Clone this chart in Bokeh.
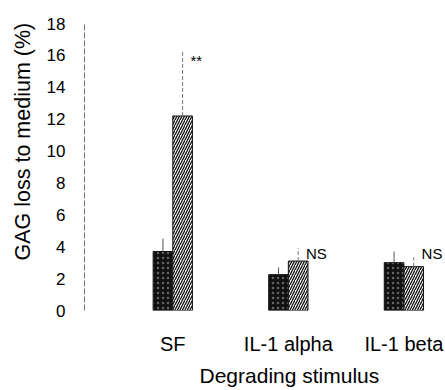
import numpy as np
from bokeh.plotting import figure
from bokeh.models import Range1d, FixedTicker, Title
from bokeh.core.properties import value
from bokeh.embed import file_html
from bokeh.resources import INLINE

# ---- data ----
categories = ["SF", "IL-1 alpha", "IL-1 beta"]
black_means = [3.7, 2.25, 3.0]
black_errs = [0.8, 0.45, 0.7]
hatched_means = [12.2, 3.1, 2.75]
hatched_errs = [4.0, 0.8, 0.6]
annotations = ["**", "NS", "NS"]
annotation_y = [15.7, 3.6, 3.6]
y_ticks = [0, 2, 4, 6, 8, 10, 12, 14, 16, 18]
y_title = "GAG loss to medium (%)"
x_title = "Degrading stimulus"

FONT = "Liberation Sans"
pos = np.arange(1, len(categories) + 1)
bw = 0.17

p = figure(width=445, height=390, x_range=Range1d(0.236, 3.36), y_range=Range1d(0, 18),
           output_backend="svg", toolbar_location=None,
           min_border_left=81, min_border_right=0, min_border_top=23, min_border_bottom=79)
p.background_fill_color = "white"
p.border_fill_color = "white"
p.outline_line_color = None
p.xgrid.visible = False
p.ygrid.visible = False

# black (stippled) bars
p.vbar(x=pos - bw / 2, top=black_means, width=bw, fill_color="#111111", line_color="#111111",
       hatch_pattern=".", hatch_color="white", hatch_alpha=0.35, hatch_scale=5, hatch_weight=1)
# hatched bars
p.vbar(x=pos + bw / 2, top=hatched_means, width=bw, fill_color="white", line_color="#111111",
       line_width=1, hatch_pattern="/", hatch_color="#111111", hatch_scale=5, hatch_weight=1.3)

# error bars
p.segment(x0=pos - bw / 2, y0=black_means, x1=pos - bw / 2,
          y1=np.array(black_means) + np.array(black_errs), line_color="#555555", line_width=1)
p.segment(x0=pos + bw / 2, y0=hatched_means, x1=pos + bw / 2,
          y1=np.array(hatched_means) + np.array(hatched_errs), line_color="#777777",
          line_width=1, line_dash="4 2")

# significance annotations
p.text(x=pos + bw, y=annotation_y, text=annotations, text_align="left", text_baseline="middle",
       x_offset=-2, text_font=value(FONT), text_font_size="15px", text_color="black")

# y axis
p.yaxis.ticker = FixedTicker(ticks=y_ticks)
p.yaxis.major_tick_in = 0
p.yaxis.major_tick_out = 0
p.yaxis.minor_tick_line_color = None
p.yaxis.axis_line_color = "#777777"
p.yaxis.axis_line_dash = "6 2"
p.yaxis.major_label_standoff = 19
p.yaxis.major_label_text_font = FONT
p.yaxis.major_label_text_font_size = "17px"
p.yaxis.major_label_text_color = "black"

# x axis
p.xaxis.ticker = FixedTicker(ticks=list(pos))
p.xaxis.major_label_overrides = {int(i): c for i, c in zip(pos, categories)}
p.xaxis.major_tick_in = 0
p.xaxis.major_tick_out = 0
p.xaxis.minor_tick_line_color = None
p.xaxis.axis_line_color = None
p.xaxis.major_label_standoff = 22
p.xaxis.major_label_text_font = FONT
p.xaxis.major_label_text_font_size = "20px"
p.xaxis.major_label_text_color = "black"

# axis titles
p.add_layout(Title(text=y_title, align="left", offset=50, standoff=17,
                   text_font=FONT, text_font_size="21.5px", text_font_style="normal",
                   text_color="black"), "left")
p.add_layout(Title(text=x_title, align="left", offset=115, standoff=8,
                   text_font=FONT, text_font_size="21px", text_font_style="normal",
                   text_color="black"), "below")

open("out.html", "w").write(file_html(p, INLINE))
